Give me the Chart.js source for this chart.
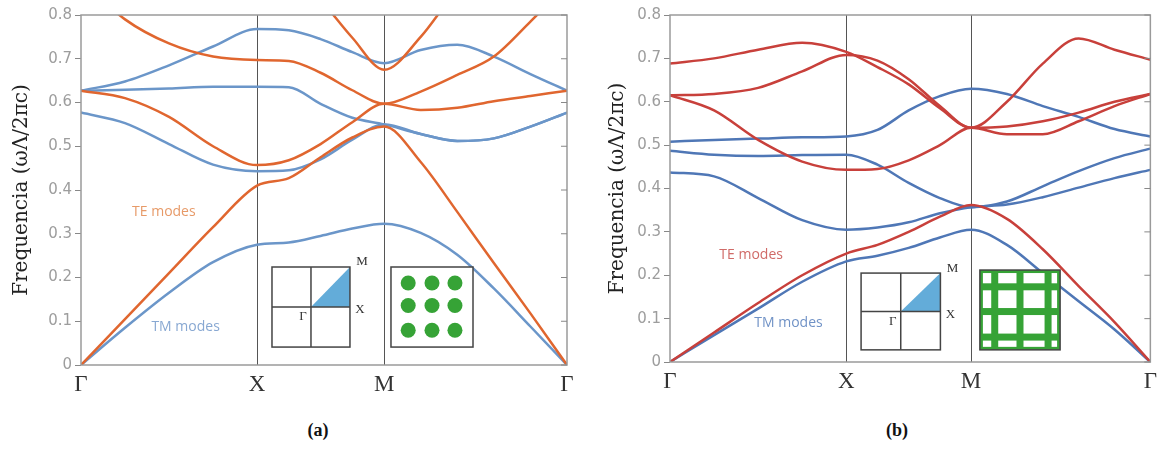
<!DOCTYPE html>
<html>
<head>
<meta charset="utf-8">
<script src="https://cdn.jsdelivr.net/npm/chart.js@4.4.1/dist/chart.umd.min.js"></script>
<style>
  body { margin: 0; background: #fff; }
  #wrap { position: relative; width: 1163px; height: 452px; overflow: hidden; }
  canvas { position: absolute; top: 0; }
  .cap { position: absolute; top: 420px; font: bold 18px "Liberation Serif", serif; color: #111; transform: translateX(-50%); }
</style>
</head>
<body>
<div id="wrap">
  <canvas id="chartA" width="600" height="400" style="left:0"></canvas>
  <canvas id="chartB" width="583" height="400" style="left:580px"></canvas>
  <div class="cap" style="left:318px">(a)</div>
  <div class="cap" style="left:897px">(b)</div>
</div>
<script>
// symmetry points along the k-path
const symLabels = ['Γ', 'X', 'M', 'Γ'];
const symA = [0, 1, 1.722, 2.761];
const symB = [0, 1, 1.708, 2.725];
// sample positions inside each segment (Γ-X, X-M, M-Γ)
const segFrac = [[0, 0.25, 0.5, 0.75, 1], [0.25, 0.5, 0.75, 1], [0.2, 0.4, 0.6, 0.8, 1]];

const yTickVals = [0, 0.1, 0.2, 0.3, 0.4, 0.5, 0.6, 0.7, 0.8];
const yTickLabels = ['0', '0.1', '0.2', '0.3', '0.4', '0.5', '0.6', '0.7', '0.8'];

// (a) square lattice of rods - frequencies (ωΛ/2πc)
const tmA1 = [0, 0.085, 0.165, 0.235, 0.275, 0.28, 0.295, 0.312, 0.323, 0.302, 0.252, 0.175, 0.088, 0];
const tmA2 = [0.577, 0.553, 0.505, 0.458, 0.443, 0.445, 0.47, 0.515, 0.55, 0.528, 0.512, 0.518, 0.545, 0.577];
const tmA3 = [0.627, 0.629, 0.632, 0.636, 0.636, 0.635, 0.597, 0.565, 0.55, 0.528, 0.512, 0.518, 0.545, 0.577];
const tmA4 = [0.627, 0.648, 0.685, 0.728, 0.768, 0.765, 0.745, 0.715, 0.69, 0.72, 0.732, 0.705, 0.665, 0.627];
const teA1 = [0, 0.105, 0.21, 0.315, 0.41, 0.427, 0.475, 0.52, 0.545, 0.464, 0.35, 0.233, 0.118, 0];
const teA2 = [0.627, 0.61, 0.567, 0.50, 0.457, 0.468, 0.505, 0.555, 0.597, 0.583, 0.588, 0.603, 0.615, 0.627];
const teA3 = [0.88, 0.79, 0.735, 0.705, 0.697, 0.695, 0.668, 0.628, 0.597, 0.625, 0.663, 0.705, 0.785, 0.87];
const teA4 = [1.0, 1.0, 1.0, 1.0, 0.98, 0.91, 0.835, 0.748, 0.675, 0.75, 0.86, 0.95, 1.0, 1.0];

// (b) square grid of veins
const tmB1 = [0, 0.062, 0.123, 0.185, 0.232, 0.245, 0.263, 0.287, 0.305, 0.27, 0.205, 0.14, 0.075, 0];
const tmB2 = [0.437, 0.428, 0.378, 0.327, 0.305, 0.31, 0.322, 0.343, 0.357, 0.363, 0.38, 0.402, 0.424, 0.443];
const tmB3 = [0.487, 0.478, 0.475, 0.477, 0.478, 0.455, 0.413, 0.378, 0.357, 0.37, 0.405, 0.44, 0.47, 0.492];
const tmB4 = [0.508, 0.512, 0.515, 0.518, 0.52, 0.535, 0.58, 0.613, 0.63, 0.618, 0.59, 0.565, 0.537, 0.52];
const teB1 = [0, 0.068, 0.136, 0.2, 0.25, 0.27, 0.30, 0.335, 0.362, 0.33, 0.26, 0.175, 0.092, 0];
const teB2 = [0.615, 0.58, 0.512, 0.462, 0.443, 0.445, 0.465, 0.50, 0.54, 0.525, 0.525, 0.555, 0.59, 0.618];
const teB3 = [0.615, 0.618, 0.632, 0.67, 0.708, 0.695, 0.652, 0.59, 0.54, 0.543, 0.555, 0.575, 0.60, 0.618];
const teB4 = [0.688, 0.70, 0.72, 0.736, 0.715, 0.68, 0.64, 0.585, 0.54, 0.60, 0.688, 0.746, 0.72, 0.697];

function kPath(sym) {
  const out = [];
  segFrac.forEach((fr, i) => fr.forEach(f => out.push(sym[i] + f * (sym[i + 1] - sym[i]))));
  return out;
}

function band(vals, ks, color, order) {
  return {
    data: vals.map((v, i) => ({x: ks[i], y: v})),
    borderColor: color,
    borderWidth: 2.5,
    pointRadius: 0,
    cubicInterpolationMode: 'monotone',
    order: order
  };
}

const decor = {
  id: 'decor',
  afterDatasetsDraw(chart, args, o) {
    const {ctx, chartArea: a, scales: {x, y}} = chart;
    const px = k => x.getPixelForValue(k);
    const py = v => y.getPixelForValue(v);
    ctx.save();
    // frame
    ctx.strokeStyle = '#9a9a9a';
    ctx.lineWidth = 1.5;
    ctx.strokeRect(a.left, a.top, a.right - a.left, a.bottom - a.top);
    // inner ticks on the right side
    ctx.strokeStyle = '#888';
    ctx.lineWidth = 1;
    yTickVals.forEach(v => {
      ctx.beginPath();
      ctx.moveTo(a.right - 6, py(v));
      ctx.lineTo(a.right, py(v));
      ctx.stroke();
    });

    // Brillouin zone inset
    const b = o.bz;
    let x0 = px(b.k0), x1 = px(b.k1), yt = py(b.v1), yb = py(b.v0);
    let cx = (x0 + x1) / 2, cy = (yt + yb) / 2;
    ctx.fillStyle = '#fff';
    ctx.fillRect(x0, yt, x1 - x0, yb - yt);
    ctx.fillStyle = '#63acd9';
    ctx.beginPath();
    ctx.moveTo(cx, cy); ctx.lineTo(x1, cy); ctx.lineTo(x1, yt); ctx.closePath();
    ctx.fill();
    ctx.strokeStyle = '#444';
    ctx.lineWidth = 1.5;
    ctx.strokeRect(x0, yt, x1 - x0, yb - yt);
    ctx.beginPath();
    ctx.moveTo(cx, yt); ctx.lineTo(cx, yb);
    ctx.moveTo(x0, cy); ctx.lineTo(x1, cy);
    ctx.stroke();
    ctx.fillStyle = '#333';
    ctx.font = '13px "Liberation Serif", serif';
    ctx.textAlign = 'center';
    ctx.textBaseline = 'middle';
    ctx.fillText('M', x1 + 12, yt - 5);
    ctx.fillText('X', x1 + 10, cy + 3);
    ctx.fillText('Γ', cx - 8, cy + 10);

    // real-space lattice inset
    const l = o.lat;
    x0 = px(l.k0); x1 = px(l.k1); yt = py(l.v1); yb = py(l.v0);
    const w = x1 - x0, h = yb - yt;
    ctx.fillStyle = '#fff';
    ctx.fillRect(x0, yt, w, h);
    ctx.fillStyle = '#36a336';
    ctx.strokeStyle = '#36a336';
    if (l.type === 'rods') {
      [0.21, 0.5, 0.78].forEach(fx => [0.2, 0.48, 0.79].forEach(fy => {
        ctx.beginPath();
        ctx.arc(x0 + fx * w, yt + fy * h, 7.5, 0, Math.PI * 2);
        ctx.fill();
      }));
    } else {
      [0.185, 0.5, 0.85].forEach(fx => ctx.fillRect(x0 + fx * w - 3.5, yt, 7, h));
      [0.21, 0.52, 0.84].forEach(fy => ctx.fillRect(x0, yt + fy * h - 3.5, w, 7));
      ctx.lineWidth = 3;
      ctx.strokeRect(x0 + 1.5, yt + 1.5, w - 3, h - 3);
    }
    ctx.strokeStyle = '#444';
    ctx.lineWidth = 1.5;
    ctx.strokeRect(x0, yt, w, h);

    // mode labels
    ctx.font = '14px "Open Sans", sans-serif';
    ctx.textAlign = 'left';
    o.modes.forEach(m => {
      ctx.fillStyle = m.color;
      ctx.fillText(m.text, px(m.k), py(m.v));
    });

    // y axis title
    ctx.translate(o.titleX, (a.top + a.bottom) / 2);
    ctx.rotate(-Math.PI / 2);
    ctx.textAlign = 'center';
    ctx.fillStyle = '#222';
    ctx.font = '20px "DejaVu Serif", serif';
    ctx.fillText('Frequencia (ωΛ/2πc)', 0, 0);
    ctx.restore();
  }
};

function makeChart(id, sym, bands, layout, deco) {
  const ks = kPath(sym);
  return new Chart(document.getElementById(id), {
    type: 'line',
    data: {datasets: bands.map(bd => band(bd.vals, ks, bd.color, bd.order))},
    options: {
      responsive: false,
      animation: false,
      devicePixelRatio: 1,
      layout: {padding: {top: 15, right: layout.padRight, left: 0, bottom: 0}},
      plugins: {legend: {display: false}, tooltip: {enabled: false}, decor: deco},
      scales: {
        x: {
          type: 'linear',
          min: sym[0],
          max: sym[3],
          afterBuildTicks: s => { s.ticks = sym.map(v => ({value: v})); },
          afterFit: s => { s.height = layout.xh; },
          ticks: {
            callback: (v, i) => symLabels[i],
            autoSkip: false,
            maxRotation: 0,
            padding: 6,
            color: '#333',
            font: {family: '"Liberation Serif", serif', size: 23}
          },
          grid: {
            drawTicks: false,
            lineWidth: 1,
            color: c => (c.index === 1 || c.index === 2) ? '#555' : 'rgba(0,0,0,0)'
          },
          border: {display: false}
        },
        y: {
          min: 0,
          max: 0.8,
          afterBuildTicks: s => { s.ticks = yTickVals.map(v => ({value: v})); },
          afterFit: s => { s.width = layout.yw; },
          ticks: {
            callback: (v, i) => yTickLabels[i],
            padding: 3,
            color: '#9d9d9d',
            font: {family: '"DejaVu Sans", sans-serif', size: 15}
          },
          grid: {drawOnChartArea: false, tickLength: 6, color: '#888'},
          border: {display: false}
        }
      }
    },
    plugins: [decor]
  });
}

const orangeA = '#e0662f', blueA = '#6b96c9';
makeChart('chartA', symA, [
  {vals: tmA1, color: blueA, order: 2}, {vals: tmA2, color: blueA, order: 2},
  {vals: tmA3, color: blueA, order: 2}, {vals: tmA4, color: blueA, order: 2},
  {vals: teA1, color: orangeA, order: 1}, {vals: teA2, color: orangeA, order: 1},
  {vals: teA3, color: orangeA, order: 1}, {vals: teA4, color: orangeA, order: 1}
], {padRight: 33, yw: 81, xh: 35}, {
  titleX: 22,
  bz: {k0: 1.085, k1: 1.528, v0: 0.041, v1: 0.224},
  lat: {k0: 1.761, k1: 2.227, v0: 0.041, v1: 0.224, type: 'rods'},
  modes: [
    {text: 'TE modes', k: 0.29, v: 0.35, color: '#e79a68'},
    {text: 'TM modes', k: 0.40, v: 0.087, color: '#88a8d2'}
  ]
});

const redB = '#c8403b', blueB = '#4f77b6';
makeChart('chartB', symB, [
  {vals: tmB1, color: blueB, order: 2}, {vals: tmB2, color: blueB, order: 2},
  {vals: tmB3, color: blueB, order: 2}, {vals: tmB4, color: blueB, order: 2},
  {vals: teB1, color: redB, order: 1}, {vals: teB2, color: redB, order: 1},
  {vals: teB3, color: redB, order: 1}, {vals: teB4, color: redB, order: 1}
], {padRight: 8, yw: 90, xh: 38}, {
  titleX: 38,
  bz: {k0: 1.084, k1: 1.534, v0: 0.028, v1: 0.205},
  lat: {k0: 1.758, k1: 2.213, v0: 0.028, v1: 0.212, type: 'grid'},
  modes: [
    {text: 'TE modes', k: 0.28, v: 0.247, color: '#d06b68'},
    {text: 'TM modes', k: 0.478, v: 0.09, color: '#7092c6'}
  ]
});
</script>
</body>
</html>
